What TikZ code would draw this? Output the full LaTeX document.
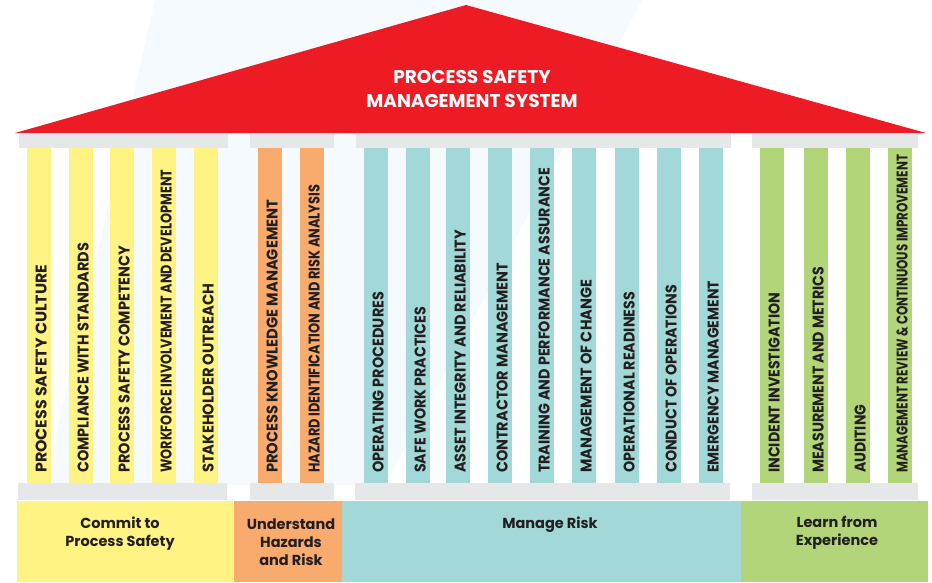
\documentclass[tikz,border=0pt]{standalone}
\usepackage{fontspec}
\usepackage{graphicx}
\setmainfont{Poppins}
\definecolor{roofred}{HTML}{ED1C24}
\definecolor{colyellow}{HTML}{FFF384}
\definecolor{colorange}{HTML}{F9AB6E}
\definecolor{colteal}{HTML}{A3D8D8}
\definecolor{colgreen}{HTML}{B2D57A}
\definecolor{stonegray}{HTML}{E6E7E8}
\definecolor{inkdark}{HTML}{231F20}
\definecolor{skylight}{HTML}{F4FAFE}
\tikzset{
  collabel/.style={rotate=90, anchor=base west, inner sep=0pt, text=inkdark,
    font=\fontsize{15.5}{15.5}\selectfont\bfseries},
  bandlabel/.style={align=center, inner sep=0pt, text=inkdark,
    font=\fontsize{14.5}{18}\selectfont\bfseries},
  titlelabel/.style={align=center, inner sep=0pt, text=white,
    font=\fontsize{18.5}{24}\selectfont\bfseries}
}
\newcommand\pillar[6]{% name, left x, colour, top of text, text
  \fill[#3] (#2,148) rectangle ++(24,335);
  \node[collabel] (#1) at (#2+19.5,473) {\resizebox{\dimexpr 473pt-#4pt\relax}{\height}{#5}};
}
\begin{document}
\begin{tikzpicture}[x=1pt,y=-1pt]
\useasboundingbox (0,0) rectangle (932,582);
\fill[white] (0,0) rectangle (932,582);
% faint background band
\fill[skylight] (155,0) -- (642,0) -- (385,485) -- (45,485) -- cycle;
% roof
\fill[roofred] (15,133) -- (466,5) -- (926,133) -- cycle;
\node[titlelabel] (title) at (472,89) {PROCESS SAFETY\\MANAGEMENT SYSTEM};
% capitals
\fill[stonegray] (19,133) rectangle (228,148);
\fill[stonegray] (250,133) rectangle (334,148);
\fill[stonegray] (356,133) rectangle (731,148);
\fill[stonegray] (752,133) rectangle (918,148);
% bases
\fill[stonegray] (18,483) rectangle (227,500);
\fill[stonegray] (250,483) rectangle (334,500);
\fill[stonegray] (355,483) rectangle (730,500);
\fill[stonegray] (752,483) rectangle (918,500);
% pillars
\pillar{p1}{27}{colyellow}{265}{PROCESS SAFETY CULTURE}{}
\pillar{p2}{69}{colyellow}{243}{COMPLIANCE WITH STANDARDS}{}
\pillar{p3}{110}{colyellow}{246}{PROCESS SAFETY COMPETENCY}{}
\pillar{p4}{152}{colyellow}{170}{WORKFORCE INVOLVEMENT AND DEVELOPMENT}{}
\pillar{p5}{194}{colyellow}{284}{STAKEHOLDER OUTREACH}{}
\pillar{p6}{258}{colorange}{200}{PROCESS KNOWLEDGE MANAGEMENT}{}
\pillar{p7}{300}{colorange}{185}{HAZARD IDENTIFICATION AND RISK ANALYSIS}{}
\pillar{p8}{364}{colteal}{292}{OPERATING PROCEDURES}{}
\pillar{p9}{406}{colteal}{307}{SAFE WORK PRACTICES}{}
\pillar{p10}{446}{colteal}{230}{ASSET INTEGRITY AND RELIABILITY}{}
\pillar{p11}{488}{colteal}{263}{CONTRACTOR MANAGEMENT}{}
\pillar{p12}{530}{colteal}{168}{TRAINING AND PERFORMANCE ASSURANCE}{}
\pillar{p13}{572}{colteal}{280}{MANAGEMENT OF CHANGE}{}
\pillar{p14}{615}{colteal}{292}{OPERATIONAL READINESS}{}
\pillar{p15}{657}{colteal}{285}{CONDUCT OF OPERATIONS}{}
\pillar{p16}{699}{colteal}{281}{EMERGENCY MANAGEMENT}{}
\pillar{p17}{760}{colgreen}{293}{INCIDENT INVESTIGATION}{}
\pillar{p18}{804}{colgreen}{267}{MEASUREMENT AND METRICS}{}
\pillar{p19}{846}{colgreen}{405}{AUDITING}{}
\pillar{p20}{888}{colgreen}{155}{MANAGEMENT REVIEW \& CONTINUOUS IMPROVEMENT}{}
% foundation bands
\fill[colyellow] (17,501) rectangle (233,582);
\fill[colorange] (234,501) rectangle (342,582);
\fill[colteal] (342,501) rectangle (741,582);
\fill[colgreen] (741,501) rectangle (928,582);
\node[bandlabel] (b1) at (120,534) {Commit to\\Process Safety};
\node[bandlabel] (b2) at (291,542) {Understand\\Hazards\\and Risk};
\node[bandlabel] (b3) at (550,525) {Manage Risk};
\node[bandlabel] (b4) at (837,533) {Learn from\\Experience};
\end{tikzpicture}
\end{document}
